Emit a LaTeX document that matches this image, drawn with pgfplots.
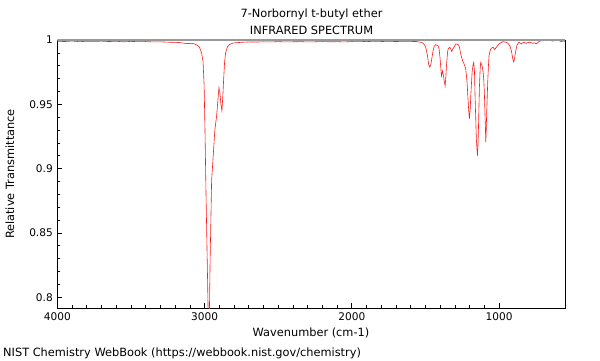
\documentclass[border=0pt]{standalone}
\usepackage{fontspec}
\setmainfont{DejaVu Sans}
\usepackage{pgfplots}
\pgfplotsset{compat=1.18}
\begin{document}
\begin{tikzpicture}[x=1bp,y=1bp,font=\fontsize{11.4}{13}\selectfont]
\path[draw=none] (0,0) rectangle (600,360);
\begin{axis}[
  at={(57.3bp,52bp)}, anchor=south west,
  scale only axis, width=508bp, height=268bp,
  x dir=reverse, xmin=550, xmax=4000,
  ymin=0.7916, ymax=1.0,
  xtick={1000,2000,3000,4000}, minor x tick num=9,
  ytick={0.8,0.85,0.9,0.95,1}, minor y tick num=4,
  yticklabels={0.8,0.85,0.9,0.95,1},
  xticklabels={1000,2000,3000,4000},
  tick align=inside, xtick pos=bottom, ytick pos=left,
  major tick length=5bp, minor tick length=3bp,
  tick style={black, line width=0.6bp},
  axis line style={black, line width=0.8bp},
  ticklabel style={font=\fontsize{10.6}{12}\selectfont},
  /pgf/number format/assume math mode=true,
  xticklabel style={yshift=-1bp},
  yticklabel style={xshift=-1bp},
]
\addplot[red!90, line width=0.6bp] coordinates {
(4000,0.9990) (3950,0.9988) (3900,0.9992) (3850,0.9987) (3800,0.9990) (3750,0.9989)
(3700,0.9991) (3650,0.9988) (3600,0.9990) (3550,0.9986) (3500,0.9989) (3450,0.9987)
(3400,0.9988) (3350,0.9985) (3300,0.9986) (3250,0.9983) (3200,0.9982) (3170,0.9980)
(3140,0.9975) (3110,0.9972) (3090,0.9974) (3070,0.9970) (3050,0.9960) (3035,0.9945)
(3020,0.9900) (3010,0.9830) (3003,0.9650) (2997,0.9300) (2990,0.8800) (2982,0.8300)
(2975,0.7850) (2968,0.7800) (2962,0.8300) (2957,0.8600) (2952,0.8910) (2941,0.9100)
(2930,0.9300) (2918,0.9410) (2908,0.9550) (2902,0.9630) (2895,0.9580) (2888,0.9490)
(2882,0.9450) (2876,0.9560) (2870,0.9700) (2864,0.9826) (2857,0.9900) (2845,0.9945)
(2830,0.9965) (2805,0.9977) (2750,0.9982) (2700,0.9985) (2650,0.9984) (2600,0.9986)
(2550,0.9985) (2500,0.9987) (2450,0.9985) (2400,0.9986) (2350,0.9987) (2300,0.9985)
(2250,0.9986) (2200,0.9988) (2150,0.9986) (2100,0.9987) (2050,0.9985) (2000,0.9988)
(1950,0.9987) (1900,0.9989) (1850,0.9987) (1800,0.9988) (1750,0.9990) (1700,0.9988)
(1650,0.9990) (1600,0.9989) (1561,0.9988) (1530,0.9982) (1516,0.9975) (1505,0.9960)
(1497,0.9940) (1486,0.9877) (1478,0.9810) (1472,0.9790) (1465,0.9800) (1459,0.9839)
(1448,0.9917) (1440,0.9950) (1432,0.9963) (1420,0.9958) (1414,0.9955) (1407,0.9930)
(1402,0.9877) (1391,0.9720) (1384,0.9760) (1377,0.9720) (1372,0.9680) (1366,0.9643)
(1361,0.9720) (1357,0.9800) (1350,0.9900) (1346,0.9930) (1335,0.9943) (1327,0.9930)
(1321,0.9910) (1314,0.9930) (1308,0.9940) (1294,0.9969) (1285,0.9967) (1276,0.9963)
(1268,0.9940) (1262,0.9900) (1248,0.9839) (1240,0.9820) (1233,0.9800) (1227,0.9780)
(1221,0.9720) (1216,0.9650) (1212,0.9565) (1206,0.9450) (1201,0.9389) (1196,0.9460)
(1192,0.9565) (1183,0.9748) (1176,0.9810) (1172,0.9826) (1167,0.9760) (1163,0.9565)
(1158,0.9380) (1154,0.9227) (1147,0.9100) (1143,0.9180) (1140,0.9305) (1136,0.9500)
(1133,0.9643) (1128,0.9780) (1124,0.9826) (1118,0.9810) (1113,0.9787) (1108,0.9750)
(1104,0.9696) (1100,0.9600) (1097,0.9487) (1093,0.9330) (1090,0.9206) (1087,0.9300)
(1084,0.9436) (1080,0.9560) (1077,0.9670) (1072,0.9800) (1068,0.9877) (1062,0.9910)
(1056,0.9930) (1048,0.9940) (1041,0.9943) (1035,0.9935) (1029,0.9925) (1024,0.9935)
(1018,0.9943) (1010,0.9955) (1000,0.9969) (985,0.9980) (973,0.9987) (960,0.9984)
(950,0.9982) (940,0.9975) (927,0.9955) (918,0.9925) (912,0.9890) (906,0.9850)
(900,0.9830) (894,0.9860) (889,0.9900) (883,0.9935) (878,0.9960) (870,0.9975)
(864,0.9982) (856,0.9975) (848,0.9969) (840,0.9978) (832,0.9982) (823,0.9978)
(814,0.9974) (805,0.9980) (792,0.9982) (780,0.9978) (769,0.9974) (758,0.9978)
(746,0.9970) (735,0.9982) (725,0.9990) (712,0.9995) (700,0.9993) (690,0.9998)
(678,1.0000) (665,0.9996) (655,0.9998) (645,0.9993) (633,0.9992) (620,0.9997)
(610,0.9994) (599,1.0000) (590,0.9993) (576,0.9987) (565,0.9992) (554,0.9990)
(550,0.9989)
};
\draw[gray!80, line width=2bp] (rel axis cs:0,1) -- (rel axis cs:1,1);
\end{axis}
\node[anchor=base] at (311.5,342.5) {7-Norbornyl t-butyl ether};
\node[anchor=base] at (311.5,325.7) {INFRARED SPECTRUM};
\node[anchor=base] at (311,23.3) {Wavenumber (cm-1)};
\node[anchor=base, rotate=90] at (14,186) {Relative Transmittance};
\node[anchor=base west, inner sep=0pt] at (3,3.5) {NIST Chemistry WebBook (https://webbook.nist.gov/chemistry)};
\end{tikzpicture}
\end{document}
